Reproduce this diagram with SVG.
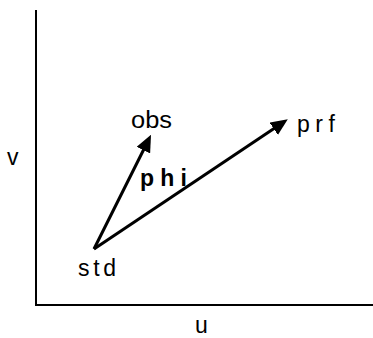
<svg xmlns="http://www.w3.org/2000/svg" width="373" height="338" viewBox="0 0 373 338">
<style>
.lbl{font-family:"Liberation Sans",Arial,sans-serif;font-size:23px;fill:#000}
.b{font-weight:bold}
.ax{stroke:#000;stroke-width:2;fill:none}
.vec{stroke:#000;stroke-width:3;fill:none}
</style>
<defs>
<marker id="ah" markerUnits="userSpaceOnUse" markerWidth="17" markerHeight="15" refX="4" refY="7.5" orient="auto">
<path d="M0,0 L17,7.5 L0,15 z" fill="#000"/>
</marker>
</defs>
<g id="axes">
<path class="ax" d="M36,10 L36,305 L373,305"/>
</g>
<g id="connectors">
<line class="vec" x1="94" y1="249" x2="145.2" y2="146.5" marker-end="url(#ah)"/>
<line class="vec" x1="94" y1="249" x2="277" y2="126.5" marker-end="url(#ah)"/>
</g>
<g id="std"><text class="lbl" x="78" y="276" textLength="38" lengthAdjust="spacing">std</text></g>
<g id="obs"><text class="lbl" x="131" y="128" textLength="41" lengthAdjust="spacingAndGlyphs">obs</text></g>
<g id="prf"><text class="lbl" x="297" y="132" textLength="38" lengthAdjust="spacing">prf</text></g>
<g id="phi"><text class="lbl b" x="140" y="186" textLength="47" lengthAdjust="spacing">phi</text></g>
<g id="v"><text class="lbl" x="7" y="165">v</text></g>
<g id="u"><text class="lbl" x="195" y="333">u</text></g>
</svg>
